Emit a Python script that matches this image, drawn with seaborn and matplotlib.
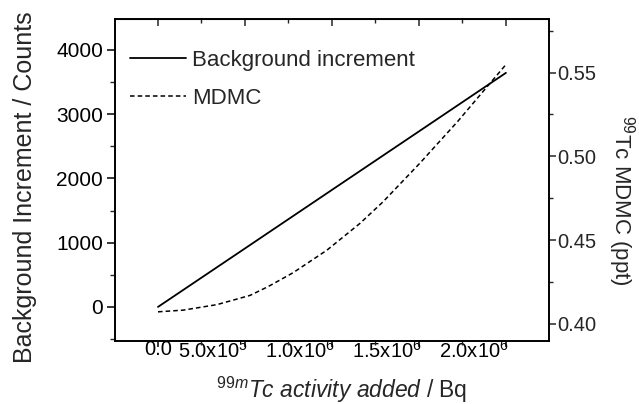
import numpy as np
import pandas as pd
import matplotlib
matplotlib.use("Agg")
import matplotlib.pyplot as plt
from matplotlib.ticker import MultipleLocator, FuncFormatter
from matplotlib.transforms import ScaledTranslation
import seaborn as sns

# Data
activity_bg = [0.0, 5.0e5, 1.0e6, 1.5e6, 2.0e6]
background = [0, 910, 1821, 2731, 3642]

activity_md = [0.0, 1.44e5, 3.39e5, 5.29e5, 6.32e5, 7.76e5, 9.71e5, 1.161e6,
               1.293e6, 1.506e6, 1.724e6, 1.879e6, 2.0e6]
mdmc = [0.4072, 0.4082, 0.4115, 0.4170, 0.4222, 0.4305, 0.4440, 0.4600,
        0.4728, 0.4960, 0.5210, 0.5400, 0.5548]

legend_labels = ["Background increment", "MDMC"]

sns.set_style("ticks")
plt.rcParams["font.family"] = ["Liberation Sans", "DejaVu Sans"]
plt.rcParams["mathtext.fontset"] = "custom"
plt.rcParams["mathtext.rm"] = "Liberation Sans"
plt.rcParams["mathtext.it"] = "Liberation Sans:italic"
plt.rcParams["mathtext.bf"] = "Liberation Sans:bold"

fig = plt.figure(figsize=(6.39, 4.04), dpi=100)
ax = fig.add_axes([0.18, 0.156, 0.679, 0.797])
ax2 = ax.twinx()

df_bg = pd.DataFrame({"x": activity_bg, "y": background})
df_md = pd.DataFrame({"x": activity_md, "y": mdmc})

sns.lineplot(data=df_bg, x="x", y="y", ax=ax, color="black", lw=1.3,
             label=legend_labels[0], legend=False)
sns.lineplot(data=df_md, x="x", y="y", ax=ax2, color="black", lw=1.1,
             linestyle=(0, (3, 2)), label=legend_labels[1], legend=False)

ax.set_xlim(-2.47e5, 2.247e6)
ax.set_ylim(-530, 4480)
ax2.set_ylim(0.3898, 0.582)

ax.xaxis.set_major_locator(MultipleLocator(5e5))
ax.xaxis.set_minor_locator(MultipleLocator(2.5e5))
ax.yaxis.set_major_locator(MultipleLocator(1000))
ax.yaxis.set_minor_locator(MultipleLocator(500))
ax2.yaxis.set_major_locator(MultipleLocator(0.05))
ax2.yaxis.set_minor_locator(MultipleLocator(0.025))


def xfmt(v, pos):
    if abs(v) < 1:
        return "0.0"
    exp = int(np.floor(np.log10(abs(v))))
    mant = v / 10 ** exp
    return "%.1fx10$^{%d}$" % (mant, exp)


ax.xaxis.set_major_formatter(FuncFormatter(xfmt))
ax2.yaxis.set_major_formatter(FuncFormatter(lambda v, p: "%.2f" % v))

for a in (ax, ax2):
    for s in a.spines.values():
        s.set_color("black")
        s.set_linewidth(1.2)

ax.tick_params(axis="y", which="major", direction="out", length=5.5, width=1.1,
               labelsize=15, colors="black", pad=3)
ax.tick_params(axis="y", which="minor", direction="out", length=3.5, width=1.0)
ax.tick_params(axis="x", which="major", direction="out", length=4, width=1.1,
               labelsize=14.5, colors="black", pad=-4.5, top=False)
ax.tick_params(axis="x", which="minor", direction="out", length=3, width=1.0, top=False)
ax2.tick_params(axis="y", which="major", direction="out", length=5, width=1.1,
                labelsize=14.5, pad=1)
ax2.tick_params(axis="y", which="minor", direction="out", length=3, width=1.0)
# top ticks pointing inward
secx = ax.secondary_xaxis("top")
secx.xaxis.set_major_locator(MultipleLocator(5e5))
secx.xaxis.set_minor_locator(MultipleLocator(2.5e5))
secx.tick_params(which="major", direction="in", length=5, width=1.1, labeltop=False)
secx.tick_params(which="minor", direction="in", length=3, width=1.0)
secx.set_xticklabels([])

ax.set_xlabel(r"$^{\mathit{99m}}\mathit{Tc\ activity\ added}$ / Bq", fontsize=16.5, labelpad=9)
ax.xaxis.label.set_x(0.523)
ax.set_ylabel("Background Increment / Counts", fontsize=18, labelpad=14)
ax.yaxis.label.set_y(0.478)
ax2.set_ylabel(r"$^{99}$Tc MDMC (ppt)", fontsize=16, rotation=270, labelpad=29)
ax2.yaxis.label.set_y(0.438)

h1, l1 = ax.get_legend_handles_labels()
h2, l2 = ax2.get_legend_handles_labels()
ax.legend(h1 + h2, l1 + l2, loc="upper left", frameon=False, fontsize=16,
          handlelength=2.5, handletextpad=0.3, labelspacing=0.75,
          bbox_to_anchor=(0.035, 0.904), borderaxespad=0, borderpad=0)

# x tick labels with exponents sit right-aligned at their tick, as in the reference
fig.canvas.draw()
shift = ScaledTranslation(3 / 100, 0, fig.dpi_scale_trans)
for lab in ax.get_xticklabels():
    if lab.get_text() not in ("0.0", ""):
        lab.set_ha("right")
        lab.set_transform(lab.get_transform() + shift)

fig.savefig("out.png", dpi=100)
